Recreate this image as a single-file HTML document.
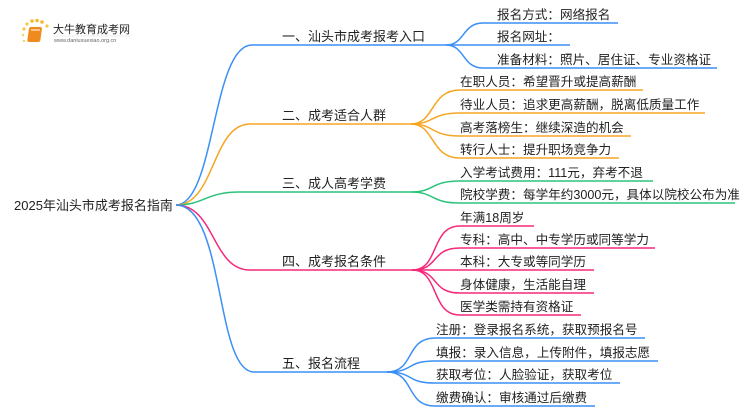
<!DOCTYPE html>
<html><head><meta charset="utf-8"><style>
html,body{margin:0;padding:0;background:#fff;}
svg text{font-family:"Liberation Sans","Noto Sans CJK SC",sans-serif;fill:#222;}
</style></head><body>
<svg width="750" height="410" viewBox="0 0 750 410" xmlns="http://www.w3.org/2000/svg">
<g>
<circle cx="24" cy="29" r="1.6" fill="#f7c548"/><circle cx="27" cy="24" r="1.6" fill="#f7c548"/><circle cx="32" cy="21" r="1.8" fill="#f5b82e"/><circle cx="37" cy="20.5" r="1.8" fill="#f5b82e"/><circle cx="42" cy="22" r="1.8" fill="#f5b82e"/><circle cx="47" cy="26" r="1.6" fill="#f7c548"/><circle cx="23" cy="35" r="1.3" fill="#f7d070"/><circle cx="24" cy="41" r="1.2" fill="#f7d070"/>
<rect x="28" y="27" width="13" height="15" rx="2" fill="#f08a1c" transform="skewX(-8) translate(5,0)"/>
<rect x="31" y="29" width="9" height="2" fill="#fff" opacity=".5"/>
<text x="53" y="33" font-size="11">大牛教育成考网</text>
<line x1="53" y1="36" x2="132" y2="36" stroke="#ddd" stroke-width="0.6"/>
<text x="54" y="42" font-size="5.5" style="fill:#666">www.daniuxuexiao.org.cn</text>
</g>
<g fill="none" stroke-width="1.5">
<path d="M176,205 C215,205 212,45 252,45 L446,45" stroke="#3b8ff5"/>
<path d="M176,205 C215,205 212,124 250,124 L411,124" stroke="#f5a623"/>
<path d="M176,205 C205,205 205,192 240,192 L411,192" stroke="#2bc37a"/>
<path d="M176,205 C215,205 212,270 250,270 L412,270" stroke="#f5287a"/>
<path d="M176,205 C225,205 215,372 254,372 L387,372" stroke="#3b8ff5"/>
<g stroke="#3b8ff5">
<path d="M446,45 C465,45 462,23 483,23 L618,23"/>
<path d="M446,45 L570,45"/>
<path d="M446,45 C465,45 462,68 483,68 L717,68"/>
</g>
<g stroke="#f5a623">
<path d="M411,124 C435,124 430,90 460,90 L643,90"/>
<path d="M411,124 C435,124 430,113 460,113 L705,113"/>
<path d="M411,124 C435,124 430,136 460,136 L631,136"/>
<path d="M411,124 C435,124 430,158 460,158 L619,158"/>
</g>
<g stroke="#2bc37a">
<path d="M411,192 C435,192 430,181 460,181 L653,181"/>
<path d="M411,192 C435,192 430,203 460,203 L735,203"/>
</g>
<g stroke="#f5287a">
<path d="M412,270 C440,270 430,226 460,226 L534,226"/>
<path d="M412,270 C440,270 430,248 460,248 L655,248"/>
<path d="M412,270 L594,270"/>
<path d="M412,270 C440,270 430,293 460,293 L594,293"/>
<path d="M412,270 C440,270 430,315 460,315 L581,315"/>
</g>
<g stroke="#3b8ff5">
<path d="M387,372 C415,372 405,338 435,338 L645,338"/>
<path d="M387,372 C415,372 405,361 435,361 L658,361"/>
<path d="M387,372 C415,372 405,383 435,383 L620,383"/>
<path d="M387,372 C415,372 405,406 435,406 L595,406"/>
</g>
</g>
<g font-size="13">
<text x="14" y="210">2025年汕头市成考报名指南</text>
<text x="282" y="41">一、汕头市成考报考入口</text>
<text x="282" y="120">二、成考适合人群</text>
<text x="282" y="188">三、成人高考学费</text>
<text x="282" y="266">四、成考报名条件</text>
<text x="282" y="368">五、报名流程</text>
</g>
<g font-size="12.6">
<text x="497" y="19">报名方式：网络报名</text>
<text x="497" y="41">报名网址：</text>
<text x="497" y="64">准备材料：照片、居住证、专业资格证</text>
<text x="460" y="86">在职人员：希望晋升或提高薪酬</text>
<text x="460" y="109">待业人员：追求更高薪酬，脱离低质量工作</text>
<text x="460" y="132">高考落榜生：继续深造的机会</text>
<text x="460" y="154">转行人士：提升职场竞争力</text>
<text x="460" y="177">入学考试费用：111元，弃考不退</text>
<text x="460" y="199">院校学费：每学年约3000元，具体以院校公布为准</text>
<text x="460" y="222">年满18周岁</text>
<text x="460" y="244">专科：高中、中专学历或同等学力</text>
<text x="460" y="266">本科：大专或等同学历</text>
<text x="460" y="289">身体健康，生活能自理</text>
<text x="460" y="311">医学类需持有资格证</text>
<text x="436" y="334">注册：登录报名系统，获取预报名号</text>
<text x="436" y="357">填报：录入信息，上传附件，填报志愿</text>
<text x="436" y="379">获取考位：人脸验证，获取考位</text>
<text x="436" y="402">缴费确认：审核通过后缴费</text>
</g>
</svg>
</body></html>
